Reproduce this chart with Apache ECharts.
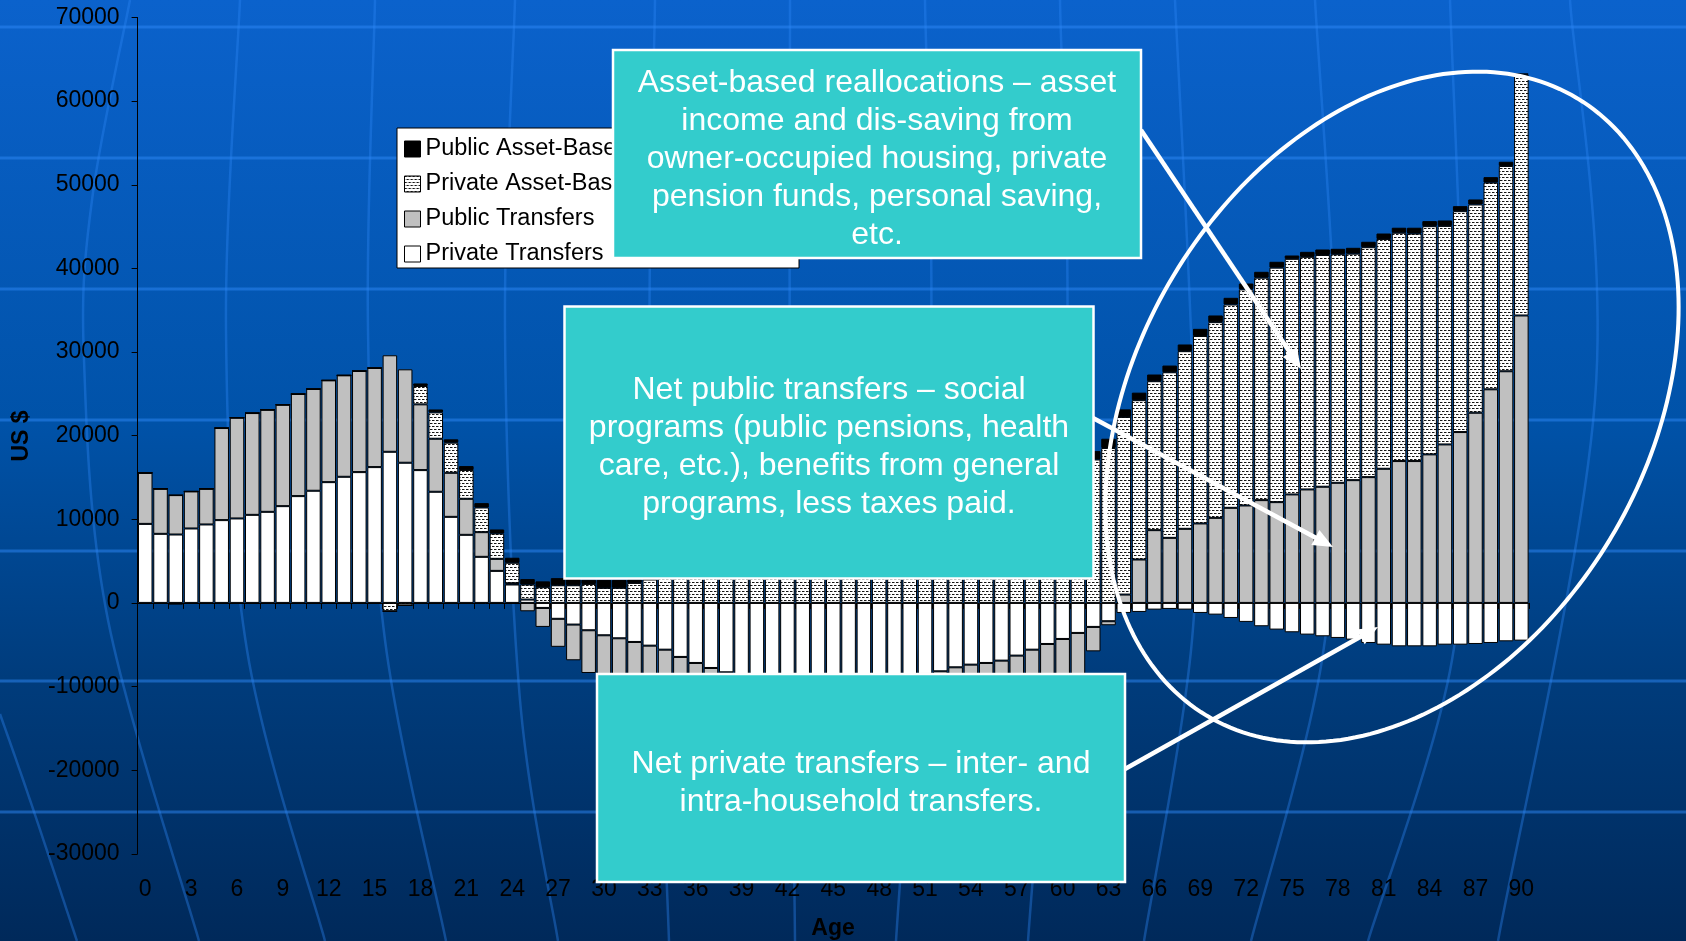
<!DOCTYPE html>
<html><head><meta charset="utf-8">
<script src="https://cdn.jsdelivr.net/npm/echarts@6/dist/echarts.min.js"></script>
<style>html,body{margin:0;padding:0;width:1686px;height:941px;overflow:hidden;}#c{width:1686px;height:941px;}</style>
</head><body><div id="c"></div>
<script>
// ---------- DATA ----------
const ages = ['0','1','2','3','4','5','6','7','8','9','10','11','12','13','14','15','16','17','18','19','20','21','22','23','24','25','26','27','28','29','30','31','32','33','34','35','36','37','38','39','40','41','42','43','44','45','46','47','48','49','50','51','52','53','54','55','56','57','58','59','60','61','62','63','64','65','66','67','68','69','70','71','72','73','74','75','76','77','78','79','80','81','82','83','84','85','86','87','88','89','90'];

const privateTransfers = [9450,8260,8180,8900,9380,9900,10100,10530,10890,11570,12770,13410,14440,15080,15640,16240,18070,16760,15880,13290,10290,8140,5510,3830,2200,400,-600,-1900,-2590,-3270,-3870,-4230,-4670,-5110,-5590,-6460,-7180,-7780,-8300,-8700,-9000,-9200,-9400,-9500,-9600,-9600,-9500,-9400,-9200,-9000,-8800,-8500,-8180,-7700,-7380,-7180,-6900,-6300,-5590,-4910,-4310,-3590,-2870,-2190,-1200,-1080,-800,-720,-800,-1200,-1400,-1800,-2270,-2790,-3190,-3510,-3790,-3990,-4190,-4390,-4790,-4990,-5190,-5190,-5190,-4990,-4990,-4910,-4790,-4590,-4510];

const publicTransfers = [6100,5390,4710,4430,4270,11010,12050,12170,12210,12130,12210,12170,12170,12130,12090,11850,11540,11170,7860,6340,5270,4310,2950,1440,150,-1000,-2270,-3350,-4270,-5110,-5300,-5500,-5700,-5900,-6100,-6300,-6400,-6500,-6600,-6700,-6800,-6900,-7000,-7000,-7100,-7100,-7000,-7000,-6900,-6900,-6800,-6700,-6600,-6500,-6400,-6300,-6200,-6100,-6000,-5900,-5700,-5200,-2920,-480,1000,5190,8700,7780,8860,9500,10170,11370,11650,12290,12050,12970,13570,13890,14360,14680,15040,16040,16960,16960,17760,18950,20430,22740,25540,27700,34370];

const privateAssetBased = [0,0,0,0,0,0,0,0,0,0,0,0,0,0,0,0,-1000,-300,2200,3150,3600,3450,2950,3030,2450,1800,1875,2110,2110,2270,1800,1800,2390,2800,3100,3500,3900,4300,4800,5200,5700,6100,6600,7000,7500,8000,8400,8900,9300,9800,10300,10800,11300,11800,12300,12900,13400,14000,14600,15200,15800,16400,17150,18530,21240,19050,17810,19800,21240,22420,23400,24310,25840,26600,28040,28170,27810,27720,27330,27080,27490,27480,27300,27200,27290,26130,26410,24900,24720,24550,28790];

const publicAssetBased = [0,0,-200,0,0,0,0,0,0,0,0,0,0,0,0,0,0,0,300,350,400,460,520,480,600,650,700,850,750,500,950,950,400,800,820,850,800,780,800,820,800,790,800,810,800,820,800,790,800,810,800,820,800,790,800,810,800,820,800,850,900,950,1000,1100,900,900,800,800,800,850,800,800,700,700,700,400,600,650,650,700,650,650,600,700,600,650,600,600,650,500,150];

const seriesNames = ['Private Transfers','Public Transfers','Private Asset-Based Reallocations','Public Asset-Based Reallocations'];
const legendOrder = ['Public Asset-Based Reallocations','Private Asset-Based Reallocations','Public Transfers','Private Transfers'];
const yMin = -30000, yMax = 70000, yStep = 10000;
const xTitle = 'Age';
const yTitle = 'US $';
const note1 = 'Asset-based reallocations – asset\nincome and dis-saving from\nowner-occupied housing, private\npension funds, personal saving,\netc.';
const note2 = 'Net public transfers – social\nprograms (public pensions, health\ncare, etc.), benefits from general\nprograms, less taxes paid.';
const note3 = 'Net private transfers – inter- and\nintra-household transfers.';

// ---------- STYLE HELPERS ----------
const FONT = '"Liberation Sans", Arial, sans-serif';
function makeDots(){
  const c = document.createElement('canvas'); c.width = 4; c.height = 6;
  const g = c.getContext('2d');
  g.fillStyle = '#ffffff'; g.fillRect(0,0,4,6);
  g.fillStyle = '#141414'; g.fillRect(0,0,2,1); g.fillRect(2,3,2,1);
  g.fillStyle = '#8a8a8a'; g.fillRect(2,0,1,1); g.fillRect(0,3,1,1);
  return c;
}
const dotted = { image: makeDots(), repeat: 'repeat' };

function spline(pts, n){
  const out = [];
  for (let i = 0; i < pts.length - 1; i++){
    const p0 = pts[Math.max(0,i-1)], p1 = pts[i], p2 = pts[i+1], p3 = pts[Math.min(pts.length-1,i+2)];
    for (let k = 0; k < n; k++){
      const t = k / n, t2 = t*t, t3 = t2*t;
      const f = (a,b,c,d) => 0.5*((2*b) + (-a+c)*t + (2*a-5*b+4*c-d)*t2 + (-a+3*b-3*c+d)*t3);
      out.push([f(p0[0],p1[0],p2[0],p3[0]), f(p0[1],p1[1],p2[1],p3[1])]);
    }
  }
  out.push(pts[pts.length-1]);
  return out;
}

const deco = [];
const hCol = 'rgba(45,135,245,0.5)';
const mCol = 'rgba(45,135,245,0.38)';
[27,158,289,420,551,681,812].forEach(y => deco.push({type:'line', silent:true, z:-1, shape:{x1:0,y1:y,x2:1686,y2:y}, style:{stroke:hCol, lineWidth:3}}));
const meridians = [
  [[0,714],[30,800],[77,941]],
  [[130,0],[92,200],[84,360],[108,620],[199,941]],
  [[240,0],[226,330],[247,650],[325,941]],
  [[375,0],[368,330],[385,640],[446,941]],
  [[515,0],[505,330],[520,700],[558,941]],
  [[655,0],[650,400],[669,941]],
  [[790,0],[790,450],[795,941]],
  [[925,0],[930,400],[896,941]],
  [[1060,0],[1066,400],[1028,941]],
  [[1175,0],[1193,390],[1192,640],[1144,941]],
  [[1315,0],[1337,390],[1322,660],[1251,941]],
  [[1450,0],[1463,390],[1452,660],[1368,941]],
  [[1570,0],[1595,400],[1498,941]]
];
meridians.forEach(m => deco.push({type:'polyline', silent:true, z:-1, shape:{points: spline(m, 24)}, style:{stroke:mCol, lineWidth:2.5, fill:null}}));

// ellipse annotation
const ell = (function(){
  const cx = 1392, cy = 407, rx = 255, ry = 360, th = 31*Math.PI/180, pts = [];
  for (let i = 0; i < 240; i++){
    const t = i/240*2*Math.PI, x = rx*Math.cos(t), y = ry*Math.sin(t);
    pts.push([cx + x*Math.cos(th) - y*Math.sin(th), cy + x*Math.sin(th) + y*Math.cos(th)]);
  }
  return {type:'polygon', silent:true, z:60, shape:{points:pts}, style:{fill:null, stroke:'#ffffff', lineWidth:4}};
})();

function arrow(x1,y1,x2,y2){
  const dx = x2-x1, dy = y2-y1, L = Math.hypot(dx,dy), ux = dx/L, uy = dy/L;
  const hl = 20, hw = 17, bx = x2-ux*hl, by = y2-uy*hl;
  return [
    {type:'line', silent:true, z:70, shape:{x1:x1,y1:y1,x2:bx+ux*2,y2:by+uy*2}, style:{stroke:'#fff', lineWidth:4.5}},
    {type:'polygon', silent:true, z:70, shape:{points:[[x2,y2],[bx-uy*hw/2,by+ux*hw/2],[bx+uy*hw/2,by-ux*hw/2]]}, style:{fill:'#fff'}}
  ];
}

function note(x,y,w,h,text){
  return [
    {type:'rect', silent:true, z:100, shape:{x:x,y:y,width:w,height:h}, style:{fill:'#33CCCC', stroke:'#ffffff', lineWidth:2.5}},
    {type:'text', silent:true, z:101, x:x+w/2, y:y+h/2+5, style:{text:text, fill:'#ffffff', fontSize:32, fontFamily:FONT, lineHeight:38, align:'center', verticalAlign:'middle', textAlign:'center', textVerticalAlign:'middle'}}
  ];
}

const graphics = [].concat(
  deco,
  [ell],
  arrow(1141,130,1301,369),
  arrow(1093,418,1333,547),
  arrow(1125,769,1378,627),
  note(613,50,528,208,note1),
  note(564.5,306.5,529,272,note2),
  note(597,674,528,208,note3),
  [
    {type:'text', silent:true, z:10, x:833, y:929, style:{text:xTitle, fill:'#000', fontSize:23, fontWeight:'bold', fontFamily:FONT, align:'center', verticalAlign:'middle', textAlign:'center', textVerticalAlign:'middle'}},
    {type:'text', silent:true, z:10, x:22, y:436, rotation:Math.PI/2, style:{text:yTitle, fill:'#000', fontSize:23, fontWeight:'bold', fontFamily:FONT, align:'center', verticalAlign:'middle', textAlign:'center', textVerticalAlign:'middle'}}
  ]
);

const seriesData = [privateTransfers, publicTransfers, privateAssetBased, publicAssetBased];
const fills = ['#ffffff', '#c0c0c0', dotted, '#000000'];
const series = seriesNames.map((name, i) => ({
  name: name, type: 'bar', stack: 'total', data: seriesData[i],
  barCategoryGap: '5%',
  itemStyle: {color: fills[i], borderColor: '#000', borderWidth: 1},
  emphasis: {disabled: true}
}));

const chart = echarts.init(document.getElementById('c'), null, {renderer:'canvas'});
chart.setOption({
  animation: false,
  backgroundColor: new echarts.graphic.LinearGradient(0,0,0,1,[
    {offset:0, color:'#0b62cc'}, {offset:0.45, color:'#0052a8'}, {offset:0.72, color:'#003c7c'}, {offset:1, color:'#00295a'}
  ]),
  textStyle: {fontFamily: FONT},
  grid: {left:137.6, right:157, top:17.5, bottom:87.2, containLabel:false},
  legend: {
    data: legendOrder, orient:'vertical', left:397, top:128, padding:[9,13,2,7],
    itemGap:11, itemWidth:16, itemHeight:16, icon:'rect',
    backgroundColor:'#ffffff', borderColor:'#000', borderWidth:1, borderRadius:0,
    itemStyle:{borderColor:'#000', borderWidth:1},
    textStyle:{fontSize:23.5, color:'#000', fontFamily:FONT, lineHeight:24}, selectedMode:false
  },
  xAxis: [
    {type:'category', data: ages, position:'bottom',
     axisLine:{onZero:true, lineStyle:{color:'#000', width:1}},
     axisTick:{show:true, interval:0, length:6, lineStyle:{color:'#000'}},
     axisLabel:{show:false}, splitLine:{show:false}},
    {type:'category', data: ages, position:'bottom',
     axisLine:{show:false, onZero:false}, axisTick:{show:false},
     axisLabel:{interval:2, fontSize:23, color:'#000', margin:24, fontFamily:FONT}, splitLine:{show:false}}
  ],
  yAxis: {type:'value', min:yMin, max:yMax, interval:yStep,
    axisLine:{show:true, lineStyle:{color:'#000', width:1}},
    axisTick:{show:true, length:6, lineStyle:{color:'#000'}},
    axisLabel:{fontSize:23, color:'#000', margin:18, fontFamily:FONT, formatter: v => String(v)},
    splitLine:{show:false}},
  series: series,
  graphic: graphics
});
</script>
</body></html>
